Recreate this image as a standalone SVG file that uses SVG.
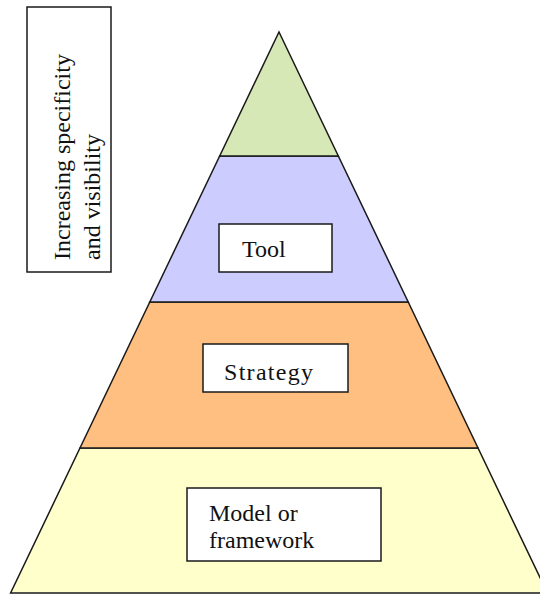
<svg xmlns="http://www.w3.org/2000/svg" width="540" height="595" viewBox="0 0 540 595">
<style>
.layer{stroke:#1a1a1a;stroke-width:1.5;stroke-linejoin:miter}
.box{fill:#ffffff;stroke:#1a1a1a;stroke-width:1.5}
text{font-family:'Liberation Serif','Tinos','DejaVu Serif',serif;font-size:24px;fill:#111111}
</style>
<rect width="540" height="595" fill="#ffffff"/>
<g id="legend">
<rect x="27" y="7" width="84" height="265" class="box"/>
<text font-family="Liberation Serif, DejaVu Serif, serif" transform="translate(70,260) rotate(-90)">Increasing specificity</text>
<text font-family="Liberation Serif, DejaVu Serif, serif" transform="translate(100,260) rotate(-90)">and visibility</text>
</g>
<g id="layer-model">
<polygon class="layer" fill="#ffffcc" points="80,448 478,448 547.4,593 10.6,593"/>
<rect x="187" y="488" width="194" height="73" class="box"/>
<text font-family="Liberation Serif, DejaVu Serif, serif" x="209" y="521">Model or</text>
<text font-family="Liberation Serif, DejaVu Serif, serif" x="209" y="548">framework</text>
</g>
<g id="layer-strategy">
<polygon class="layer" fill="#ffbf80" points="149.8,302 408.2,302 478,448 80,448"/>
<rect x="203" y="344" width="145" height="48" class="box"/>
<text font-family="Liberation Serif, DejaVu Serif, serif" x="224" y="380" textLength="89" lengthAdjust="spacing">Strategy</text>
</g>
<g id="layer-tool">
<polygon class="layer" fill="#ccccff" points="219.7,156 338.3,156 408.2,302 149.8,302"/>
<rect x="219" y="224" width="113" height="48" class="box"/>
<text font-family="Liberation Serif, DejaVu Serif, serif" x="242" y="257">Tool</text>
</g>
<g id="layer-top">
<polygon class="layer" fill="#d6e8b5" points="279,32 338.3,156 219.7,156"/>
</g>
<g id="connectors"></g>
</svg>
